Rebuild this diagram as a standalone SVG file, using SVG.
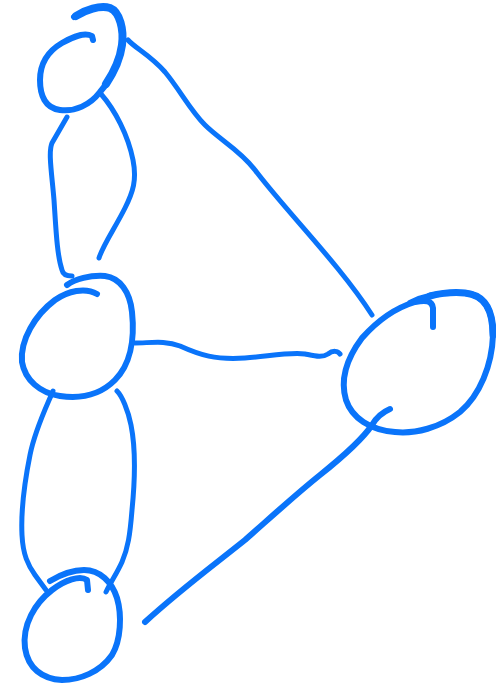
<svg xmlns="http://www.w3.org/2000/svg" width="496" height="688" viewBox="0 0 496 688">
<style>
.n{fill:none;stroke:#0A74FA;stroke-width:6;stroke-linecap:round;stroke-linejoin:round}
.t{fill:none;stroke:#0A74FA;stroke-width:8;stroke-linecap:round;stroke-linejoin:round}
.e{fill:none;stroke:#0A74FA;stroke-width:5;stroke-linecap:round;stroke-linejoin:round}
</style>
<rect width="496" height="688" fill="#fff"/>
<g id="connectors">
<path class="e" d="M67,117 L52,143 C48,152 52,175 54,200 C56,230 57,255 62,270 C63,275 68,276 72,276"/>
<path class="e" d="M101,94 C115,110 128,135 133,160 C137,180 133,192 125,208 C115,228 103,245 99,258"/>
<path class="e" d="M128,40 C135,48 150,55 165,72 C180,90 190,110 205,125 C220,140 240,150 255,170 C285,210 340,265 372,315"/>
<path class="e" d="M135,343 C150,343 165,340 180,346 C200,355 215,360 245,358 C270,356 290,352 305,354 C315,356 322,358 328,354 C333,350 338,351 340,354"/>
<path class="e" d="M53,391 C45,410 35,430 30,455 C24,485 21,515 22,535 C23,555 28,565 35,575 L46,590"/>
<path class="e" d="M117,391 C122,396 128,410 131,425 C136,450 135,480 132,510 C130,535 128,548 122,562 C117,573 112,580 106,592"/>
<path class="e" style="stroke-width:6" d="M390,409 C383,412 376,418 372,425 C362,440 345,455 320,475 C295,495 270,518 245,540 C210,568 180,590 145,622"/>
</g>
<g id="node-top">
<path class="n" d="M74,17 C85,10 100,5 110,8 C120,12 124,30 122,45 C120,60 112,78 100,92 C90,105 75,112 60,110 C45,108 40,95 40,80 C40,62 50,50 62,43 C72,37 85,32 92,36 L93,40"/>
<path class="t" d="M76,16 C85,10 100,5 110,8 C120,12 124,30 122,45 C120,60 114,72 106,84"/>
</g>
<g id="node-middle">
<path class="n" d="M67,285 C75,279 90,275 105,276 C120,278 130,292 132,312 C135,340 130,365 115,380 C100,395 80,399 60,396 C40,393 25,380 22,362 C20,340 35,315 55,300 C68,291 85,287 97,294"/>
</g>
<g id="node-bottom">
<path class="n" d="M50,581 C60,575 72,570 84,570 C100,570 112,582 117,598 C122,615 121,640 112,655 C100,672 80,680 62,680 C42,679 28,668 25,648 C22,625 35,603 52,590 C65,580 80,575 87,580 L88,590"/>
</g>
<g id="node-right">
<path class="n" d="M410,303 C425,295 445,292 465,293 C485,295 493,310 493,335 C492,365 480,395 460,412 C440,428 415,434 395,432 C370,430 352,418 346,400 C340,380 347,358 362,338 C378,320 395,308 415,302 C425,300 432,300 433,308 L433,327"/>
<path class="t" style="stroke-width:7" d="M430,296 C442,293 455,292 465,293 C485,295 493,310 493,335"/>
</g>
</svg>
